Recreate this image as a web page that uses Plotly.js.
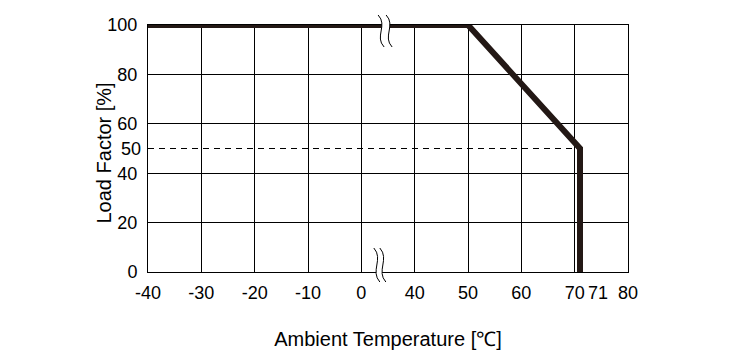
<!DOCTYPE html>
<html>
<head>
<meta charset="utf-8">
<script src="https://cdn.plot.ly/plotly-3.0.1.min.js"></script>
<style>html,body{margin:0;padding:0;background:#fff;}#chart{width:740px;height:360px;}</style>
</head>
<body>
<div id="chart"></div>
<script>
// Derating curve data
const tempC = [-40, 50, 71, 71];
const loadPct = [100, 100, 50, 0];
const refLoad = 50;
const xTickTemps = [-40, -30, -20, -10, 0, 40, 50, 60, 70, 80];
const extraTickTemp = 71;
const yTicks = [0, 20, 40, 60, 80, 100];
const yTickExtra = [50];
const xTitle = 'Ambient Temperature [℃]';
const yTitle = 'Load Factor [%]';

// broken axis: -40..0 and 40..80 share one scale, gap removed
function toAxis(t) { return t <= 0 ? t : t - 30; }

const lineColor = '#231815';
const font = {family: '"Liberation Sans", Arial, sans-serif', color: '#000'};

const curve = {
  x: tempC.map(toAxis), y: loadPct, mode: 'lines', type: 'scatter',
  line: {color: lineColor, width: 6, shape: 'linear'}, cliponaxis: false,
  hoverinfo: 'skip', showlegend: false
};
const dashed = {
  x: [toAxis(-40), toAxis(extraTickTemp)], y: [refLoad, refLoad], mode: 'lines', type: 'scatter',
  line: {color: '#000', width: 1, dash: '6px,5px'}, hoverinfo: 'skip', showlegend: false
};

function sPath(cx, cy, h, w) {
  return `M ${cx - w},${cy + h} C ${cx + 2.3 * w},${cy + h * 0.35} ${cx - 2.3 * w},${cy - h * 0.35} ${cx + w},${cy - h}`;
}
function breakShapes(xp, yp, cy, h, w, gap) {
  const l = -gap / 2, r = gap / 2;
  const fillPath = `M ${l - w},${cy + h} C ${l + 2.3 * w},${cy + h * 0.35} ${l - 2.3 * w},${cy - h * 0.35} ${l + w},${cy - h} ` +
    `L ${r + w},${cy - h} C ${r - 2.3 * w},${cy - h * 0.35} ${r + 2.3 * w},${cy + h * 0.35} ${r - w},${cy + h} Z`;
  const base = {type: 'path', xref: 'paper', yref: 'paper', xsizemode: 'pixel', ysizemode: 'pixel',
    xanchor: xp, yanchor: yp, layer: 'above'};
  return [
    Object.assign({}, base, {path: fillPath, fillcolor: '#fff', line: {width: 0}}),
    Object.assign({}, base, {path: sPath(l, cy, h, w), line: {color: '#000', width: 1}}),
    Object.assign({}, base, {path: sPath(r, cy, h, w), line: {color: '#000', width: 1}})
  ];
}

const shapes = [].concat(
  breakShapes(0.494, 1, -6, 16, 3, 8),
  breakShapes(0.483, 0, 7, 17, 3, 6)
);

const layout = {
  width: 740, height: 360,
  margin: {l: 148, r: 112, t: 25, b: 88},
  paper_bgcolor: '#fff', plot_bgcolor: '#fff',
  font: Object.assign({size: 18}, font),
  showlegend: false,
  xaxis: {
    range: [toAxis(-40), toAxis(80)], tickmode: 'array',
    tickvals: xTickTemps.map(toAxis), ticktext: xTickTemps.map(String),
    showgrid: true, gridcolor: '#000', gridwidth: 1,
    showline: true, linecolor: '#000', linewidth: 1, mirror: true,
    ticks: '', zeroline: false, ticklabelstandoff: 4,
    tickfont: Object.assign({size: 18}, font),
    title: {text: xTitle, font: Object.assign({size: 20}, font), standoff: 30}
  },
  yaxis: {
    range: [0, 100], tickmode: 'array', tickvals: yTicks, ticktext: yTicks.map(String),
    showgrid: true, gridcolor: '#000', gridwidth: 1,
    showline: true, linecolor: '#000', linewidth: 1, mirror: true,
    ticks: '', zeroline: false, ticklabelstandoff: 6,
    tickfont: Object.assign({size: 18}, font)
  },
  yaxis2: {
    range: [0, 100], overlaying: 'y', side: 'left', tickmode: 'array',
    tickvals: yTickExtra, ticktext: yTickExtra.map(String), showgrid: false,
    showline: false, zeroline: false, ticks: '', ticklabelstandoff: 6,
    tickfont: Object.assign({size: 18}, font)
  },
  shapes: shapes,
  annotations: [{
    x: toAxis(extraTickTemp), xref: 'x', y: 0, yref: 'paper', yanchor: 'middle',
    yshift: -21, xshift: 18, text: String(extraTickTemp), showarrow: false,
    font: Object.assign({size: 18}, font)
  }, {
    x: 0, xref: 'paper', xanchor: 'center', xshift: -45,
    y: 0.5, yref: 'paper', yanchor: 'middle', yshift: -5,
    text: yTitle, textangle: -90, showarrow: false,
    font: Object.assign({size: 20}, font)
  }]
};

const dummy2 = {x: [toAxis(-40)], y: [refLoad], yaxis: 'y2', mode: 'markers', marker: {opacity: 0},
  hoverinfo: 'skip', showlegend: false, type: 'scatter'};

Plotly.newPlot('chart', [dashed, curve, dummy2], layout, {staticPlot: true, displayModeBar: false});
</script>
</body>
</html>
